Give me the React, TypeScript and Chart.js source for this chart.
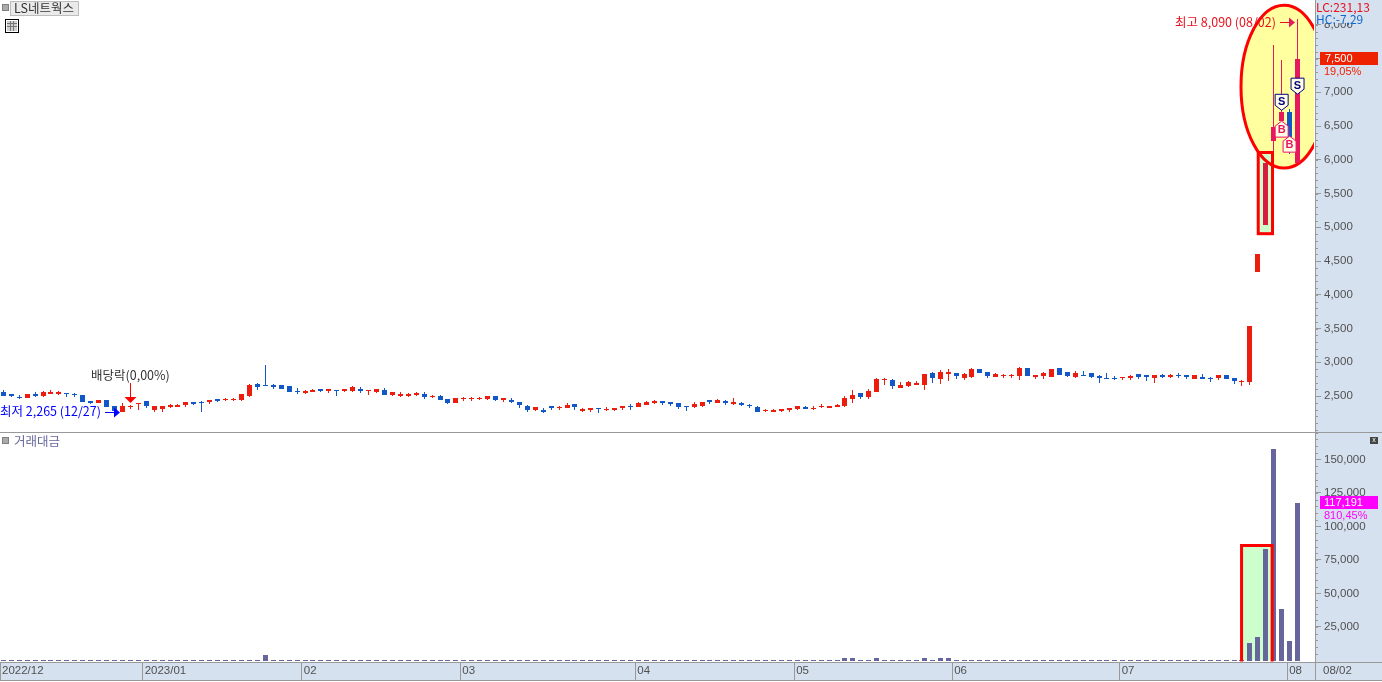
import React, { useEffect, useRef } from "react";
import { Chart, registerables } from "chart.js";

Chart.register(...registerables);

const opens = [
  2565,2525,2490,2471,2530,2500,2535,2535,2545,2535,
  2515,2425,2400,2440,2345,2265,2340,2378,2427,2298,
  2303,2338,2338,2368,2407,2412,2412,2456,2446,2446,
  2442,2501,2683,2663,2663,2663,2648,2570,2545,2565,
  2604,2574,2589,2574,2574,2604,2584,2560,2589,2515,
  2500,2500,2515,2530,2486,2500,2456,2397,2456,2456,
  2456,2456,2500,2441,2441,2412,2353,2293,2293,2353,
  2323,2323,2382,2279,2293,2323,2298,2294,2323,2353,
  2338,2368,2397,2427,2412,2397,2353,2338,2353,2442,
  2397,2427,2382,2397,2368,2338,2279,2264,2279,2294,
  2308,2338,2318,2343,2323,2338,2353,2456,2545,2486,
  2560,2742,2737,2619,2648,2663,2663,2841,2752,2826,
  2841,2767,2782,2900,2856,2782,2801,2801,2796,2915,
  2782,2796,2782,2915,2856,2782,2811,2841,2796,2767,
  2767,2767,2767,2826,2811,2767,2811,2782,2811,2811,
  2752,2782,2767,2767,2811,2767,2718,2708,4335,5030,
  6278,6570,6703,5949,
];
const closes = [
  2505,2505,2475,2530,2505,2560,2565,2560,2535,2515,
  2410,2400,2440,2337,2285,2353,2350,2397,2358,2353,
  2353,2368,2368,2412,2387,2405,2437,2427,2456,2456,
  2530,2668,2639,2655,2629,2609,2565,2560,2574,2589,
  2574,2604,2579,2604,2634,2574,2594,2604,2515,2560,
  2535,2535,2545,2486,2500,2441,2397,2471,2466,2466,
  2471,2500,2441,2471,2412,2367,2293,2338,2264,2323,
  2333,2367,2338,2308,2323,2313,2308,2323,2353,2338,
  2397,2412,2427,2397,2382,2338,2343,2382,2412,2412,
  2442,2397,2412,2368,2353,2264,2294,2294,2308,2323,
  2353,2308,2328,2353,2353,2368,2471,2515,2486,2575,
  2752,2752,2648,2663,2708,2693,2826,2767,2856,2856,
  2796,2826,2900,2841,2796,2826,2811,2811,2915,2796,
  2811,2841,2900,2811,2796,2841,2801,2782,2767,2757,
  2752,2782,2796,2782,2782,2811,2782,2811,2796,2782,
  2811,2752,2752,2811,2752,2723,2728,3536,4600,5950,
  6486,6703,6338,7500,
];
const highs = [
  2590,2525,2510,2530,2560,2570,2590,2575,2545,2550,
  2515,2425,2440,2440,2345,2392,2372,2397,2427,2353,
  2353,2382,2387,2412,2407,2427,2437,2456,2466,2476,
  2530,2672,2693,2959,2678,2663,2648,2619,2589,2604,
  2604,2604,2589,2604,2648,2634,2594,2604,2619,2560,
  2560,2545,2560,2560,2515,2515,2456,2471,2486,2486,
  2486,2500,2500,2471,2471,2412,2367,2338,2323,2353,
  2353,2397,2382,2323,2323,2323,2338,2323,2353,2382,
  2412,2427,2442,2427,2412,2397,2353,2412,2412,2442,
  2456,2442,2471,2412,2382,2353,2308,2308,2308,2323,
  2353,2353,2353,2382,2353,2382,2501,2589,2545,2604,
  2762,2767,2752,2708,2722,2722,2826,2856,2885,2900,
  2841,2841,2915,2900,2856,2841,2826,2826,2930,2915,
  2811,2856,2900,2915,2856,2870,2870,2841,2811,2841,
  2796,2782,2811,2826,2811,2811,2826,2826,2841,2811,
  2811,2826,2782,2811,2811,2767,2737,3536,4600,5950,
  7695,7473,6748,8090,
];
const lows = [
  2505,2485,2455,2471,2480,2480,2530,2515,2485,2485,
  2410,2375,2400,2337,2280,2265,2313,2294,2318,2265,
  2270,2318,2338,2333,2368,2265,2377,2412,2427,2427,
  2432,2486,2589,2648,2604,2609,2565,2535,2530,2565,
  2560,2545,2500,2560,2560,2545,2515,2545,2515,2500,
  2486,2486,2500,2456,2471,2441,2382,2397,2427,2427,
  2441,2441,2427,2412,2397,2323,2264,2279,2249,2293,
  2293,2323,2293,2264,2264,2249,2279,2279,2294,2294,
  2338,2368,2382,2368,2353,2308,2279,2323,2338,2382,
  2397,2368,2368,2353,2323,2264,2264,2264,2264,2264,
  2294,2308,2294,2323,2323,2338,2338,2397,2456,2456,
  2560,2663,2604,2619,2634,2663,2589,2693,2678,2723,
  2752,2737,2767,2841,2767,2782,2767,2767,2737,2796,
  2752,2752,2782,2811,2782,2767,2801,2767,2693,2757,
  2737,2737,2737,2752,2723,2693,2767,2767,2767,2752,
  2752,2752,2708,2737,2752,2678,2649,2663,4335,5030,
  5900,6360,6090,5949,
];
const volumes = [
  520,480,510,560,430,470,530,490,450,540,
  610,480,440,580,630,560,470,520,490,440,
  420,380,410,530,470,590,450,430,390,400,
  620,640,600,4000,650,520,610,480,430,450,
  390,420,460,410,560,520,430,470,580,500,
  440,390,420,510,380,530,560,610,430,400,
  370,420,490,440,510,620,640,540,580,470,
  410,520,560,430,410,470,380,400,430,460,
  540,490,440,420,410,480,500,520,570,460,
  440,430,510,400,380,620,390,370,410,430,
  520,440,390,420,400,430,1450,1600,610,640,
  1500,650,640,620,620,580,1500,620,1450,1550,
  640,600,610,550,520,470,430,420,630,620,
  460,520,610,640,510,560,470,490,560,430,
  420,400,470,510,480,530,440,450,420,410,
  460,430,400,510,470,530,640,12800,17300,83000,
  157600,38200,14300,117191,
];
const priceTicks = [2500,3000,3500,4000,4500,5000,5500,6000,6500,7000,7500,8000];
const volumeTicks = [25000,50000,75000,100000,125000,150000];
const monthLabels = ["2022/12","2023/01","02","03","04","05","06","07","08"];
const monthStarts = [-0.416,17.55,37.6,57.55,79.6,99.6,119.5,140.6,161.7];
const crimsonCandles = [159];
const pinkCandles = [160,161,163];

const RED = "#EC1C0E", BLUE = "#1157C8", CRIMSON = "#D81E40", PINK = "#E6195F";
const VOL = "#66669C", PANEL = "#D6E1EF", AXIS = "#999999", TEXT = "#505050";
const KR = '"Noto Sans CJK KR", "Liberation Sans", sans-serif';
const NUM = '"Liberation Sans", sans-serif';
const X_MIN = -0.416, X_MAX = 165.2;
const fmt = (v: number) => v.toLocaleString("en-US");

const candleColor = opens.map((o, i) =>
  crimsonCandles.includes(i) ? CRIMSON : pinkCandles.includes(i) ? PINK : closes[i] >= o ? RED : BLUE
);
const idx = opens.map((_, i) => i);

function text(ctx: any, s: string, x: number, y: number, color: string, font = `12.5px ${KR}`) {
  ctx.font = font;
  ctx.fillStyle = color;
  ctx.textAlign = "left";
  ctx.textBaseline = "middle";
  ctx.fillText(s, x, y);
}
function rect(ctx: any, x: number, y: number, w: number, h: number, color: string) {
  ctx.fillStyle = color;
  ctx.fillRect(x, y, w, h);
}
function smallSquare(ctx: any, x: number, y: number) {
  rect(ctx, x, y, 5, 5, "#AAAAAA");
  ctx.strokeStyle = "#808080";
  ctx.lineWidth = 1;
  ctx.strokeRect(x - 0.5, y - 0.5, 6, 6);
}
function snapPlugin(isVolume: boolean) {
  return {
    id: "snap",
    afterDatasetsUpdate(chart: any) {
      chart.data.datasets.forEach((_: any, d: number) => {
        chart.getDatasetMeta(d).data.forEach((el: any) => {
          el.x = Math.floor(el.x) + 0.5;
          if (isVolume) {
            el.base = 229;
            el.y = Math.min(Math.round(el.y), 228);
          } else {
            const top = Math.round(Math.min(el.y, el.base));
            let bottom = Math.round(Math.max(el.y, el.base));
            if (bottom === top) bottom = top + 1;
            el.y = top;
            el.base = bottom;
          }
        });
      });
    },
  };
}
function minorTicks(ctx: any, chart: any, from: number, to: number, step: number) {
  const s = chart.scales.y;
  ctx.strokeStyle = AXIS;
  ctx.lineWidth = 1;
  ctx.beginPath();
  for (let v = from; v <= to; v += step) {
    const p = Math.round(s.getPixelForValue(v)) + 0.5;
    if (p < chart.chartArea.top || p > chart.chartArea.bottom) continue;
    ctx.moveTo(1316, p);
    ctx.lineTo(1318, p);
  }
  ctx.stroke();
}
function pentagon(ctx: any, cx: number, tip: number, dir: number, stroke: string, letter: string, color: string) {
  const w = 6.5, h = 16, sh = 5;
  ctx.beginPath();
  ctx.moveTo(cx, tip);
  ctx.lineTo(cx + w, tip - dir * sh);
  ctx.lineTo(cx + w, tip - dir * h);
  ctx.lineTo(cx - w, tip - dir * h);
  ctx.lineTo(cx - w, tip - dir * sh);
  ctx.closePath();
  ctx.fillStyle = "#FFFFE8";
  ctx.fill();
  ctx.strokeStyle = stroke;
  ctx.lineWidth = 1;
  ctx.stroke();
  ctx.font = `bold 11px ${NUM}`;
  ctx.fillStyle = color;
  ctx.textAlign = "center";
  ctx.textBaseline = "middle";
  ctx.fillText(letter, cx, tip - dir * 8.5);
}

const priceDecor = {
  id: "priceDecor",
  beforeDraw(chart: any) {
    const { ctx, width, height } = chart;
    rect(ctx, 0, 0, width, height, "#FFFFFF");
    rect(ctx, 1315, 0, width - 1315, height, PANEL);
  },
  beforeDatasetsDraw(chart: any) {
    const { ctx, chartArea: a } = chart;
    const X = chart.scales.x, Y = chart.scales.y;
    const cx = X.getPixelForValue(161.3), rx = X.getPixelForValue(166.72) - cx;
    const top = Y.getPixelForValue(8290), bot = Y.getPixelForValue(5877);
    ctx.save();
    ctx.beginPath();
    ctx.rect(a.left, a.top, a.right - a.left - 1, a.bottom - a.top);
    ctx.clip();
    ctx.beginPath();
    ctx.ellipse(cx, (top + bot) / 2, rx, (bot - top) / 2, 0, 0, Math.PI * 2);
    ctx.fillStyle = "#FFFFA0";
    ctx.fill();
    const l = X.getPixelForValue(158.05), r = X.getPixelForValue(159.85);
    const t = Y.getPixelForValue(6108), b = Y.getPixelForValue(4905);
    rect(ctx, l, t, r - l, b - t, "#CCFFCC");
    ctx.beginPath();
    ctx.ellipse(cx, (top + bot) / 2, rx, (bot - top) / 2, 0, 0, Math.PI * 2);
    ctx.strokeStyle = "#FF0000";
    ctx.lineWidth = 3;
    ctx.stroke();
    ctx.restore();
  },
  afterDatasetsDraw(chart: any) {
    const { ctx } = chart;
    const X = chart.scales.x, Y = chart.scales.y;
    const l = X.getPixelForValue(158.05), r = X.getPixelForValue(159.85);
    const t = Y.getPixelForValue(6108), b = Y.getPixelForValue(4905);
    ctx.strokeStyle = "#FF0000";
    ctx.lineWidth = 3;
    ctx.strokeRect(l, t, r - l, b - t);
    pentagon(ctx, X.getPixelForValue(161), Y.getPixelForValue(6733), 1, "#000080", "S", "#000080");
    pentagon(ctx, X.getPixelForValue(163), Y.getPixelForValue(6972), 1, "#000080", "S", "#000080");
    pentagon(ctx, X.getPixelForValue(161), Y.getPixelForValue(6573), -1, "#F0106A", "B", PINK);
    pentagon(ctx, X.getPixelForValue(162), Y.getPixelForValue(6350), -1, "#F0106A", "B", PINK);
  },
  afterDraw(chart: any) {
    const { ctx } = chart;
    minorTicks(ctx, chart, 2000, 8300, 100);
    const X = chart.scales.x, Y = chart.scales.y;
    // high marker
    const hy = 22.5;
    text(ctx, "최고 8,090 (08/02)", 1175, hy, "#E8101C");
    ctx.strokeStyle = "#E8101C";
    ctx.lineWidth = 1;
    ctx.beginPath();
    ctx.moveTo(1280, hy);
    ctx.lineTo(1290, hy);
    ctx.stroke();
    ctx.fillStyle = PINK;
    ctx.beginPath();
    ctx.moveTo(1295, hy);
    ctx.lineTo(1289, hy - 5);
    ctx.lineTo(1289, hy + 5);
    ctx.closePath();
    ctx.fill();
    // low marker
    const ly = Math.round(Y.getPixelForValue(2265)) + 0.5;
    text(ctx, "최저 2,265 (12/27)", 0, ly - 1, "#0000FF");
    ctx.strokeStyle = "#0000FF";
    ctx.beginPath();
    ctx.moveTo(105, ly);
    ctx.lineTo(114, ly);
    ctx.stroke();
    ctx.fillStyle = "#0000FF";
    ctx.beginPath();
    ctx.moveTo(120, ly);
    ctx.lineTo(114, ly - 5);
    ctx.lineTo(114, ly + 5);
    ctx.closePath();
    ctx.fill();
    // ex-dividend marker
    const ex = Math.floor(X.getPixelForValue(16)) + 0.5 ;
    text(ctx, "배당락(0,00%)", 91, 375, "#333333");
    ctx.strokeStyle = "#FF0000";
    ctx.beginPath();
    ctx.moveTo(ex, 383);
    ctx.lineTo(ex, 398);
    ctx.stroke();
    ctx.fillStyle = "#FF0000";
    ctx.beginPath();
    ctx.moveTo(ex, 403);
    ctx.lineTo(ex - 6, 397);
    ctx.lineTo(ex + 6, 397);
    ctx.closePath();
    ctx.fill();
    // header
    smallSquare(ctx, 3, 5);
    rect(ctx, 10, 1, 69, 15, "#BDBDBD");
    rect(ctx, 11, 2, 67, 13, "#EAEAEA");
    text(ctx, "LS네트웍스", 14, 8.5, "#333333");
    ctx.strokeStyle = "#000000";
    ctx.lineWidth = 1;
    ctx.strokeRect(5.5, 19.5, 13, 13);
    rect(ctx, 7, 21, 10, 10, "#CFCFCF");
    ctx.strokeStyle = "#777777";
    ctx.beginPath();
    for (const p of [10.5, 13.5]) { ctx.moveTo(p, 21); ctx.lineTo(p, 31); }
    for (const p of [23.5, 26.5]) { ctx.moveTo(7, p); ctx.lineTo(17, p); }
    ctx.stroke();
    // right-hand readouts
    rect(ctx, 1316, 0, 60, 23, PANEL);
    text(ctx, "LC:231,13", 1316, 7, "#E8101C", `12px ${KR}`);
    text(ctx, "HC:-7,29", 1316, 19, "#1166CC", `12px ${KR}`);
    rect(ctx, 1320, 52, 58, 13, "#EE2200");
    text(ctx, "7,500", 1325, 58.5, "#FFFFFF", `11px ${NUM}`);
    rect(ctx, 1320, 65, 58, 12, PANEL);
    text(ctx, "19,05%", 1324, 71.5, "#EE2200", `11px ${NUM}`);
  },
};

const volumeDecor = {
  id: "volumeDecor",
  beforeDraw(chart: any) {
    const { ctx, width, height } = chart;
    rect(ctx, 0, 0, width, height, "#FFFFFF");
    rect(ctx, 1315, 0, width - 1315, 248, PANEL);
    rect(ctx, 0, 230, width, 18, PANEL);
  },
  beforeDatasetsDraw(chart: any) {
    const { ctx } = chart;
    const X = chart.scales.x, Y = chart.scales.y;
    const l = X.getPixelForValue(155.95), r = X.getPixelForValue(159.8);
    const t = Y.getPixelForValue(85700), b = Y.getPixelForValue(0);
    rect(ctx, l, t, r - l, b - t, "#CCFFCC");
  },
  afterDatasetsDraw(chart: any) {
    const { ctx } = chart;
    const X = chart.scales.x, Y = chart.scales.y;
    const l = X.getPixelForValue(155.95), r = X.getPixelForValue(159.8);
    const t = Y.getPixelForValue(85700), b = Y.getPixelForValue(0);
    ctx.strokeStyle = "#FF0000";
    ctx.lineWidth = 3;
    ctx.beginPath();
    ctx.moveTo(l, b + 1);
    ctx.lineTo(l, t);
    ctx.lineTo(r, t);
    ctx.lineTo(r, b + 1);
    ctx.stroke();
  },
  afterDraw(chart: any) {
    const { ctx, width } = chart;
    minorTicks(ctx, chart, 5000, 170000, 5000);
    rect(ctx, 0, 0, width, 1, AXIS);
    rect(ctx, 0, 230, width, 1, AXIS);
    rect(ctx, 0, 248, width, 1, AXIS);
    rect(ctx, 1315, 230, 1, 18, AXIS);
    smallSquare(ctx, 3, 6);
    text(ctx, "거래대금", 14, 9, VOL);
    text(ctx, "08/02", 1323, 239, TEXT, `11.5px ${NUM}`);
    // close icon
    rect(ctx, 1370, 5, 8, 7, "#444444");
    ctx.font = `7px ${NUM}`;
    ctx.fillStyle = "#FFFFFF";
    ctx.textAlign = "center";
    ctx.textBaseline = "middle";
    ctx.fillText("x", 1374, 8);
    // last value badge
    rect(ctx, 1320, 64, 58, 13, "#FF00FF");
    text(ctx, "117,191", 1324, 70.5, "#FFFFFF", `11px ${NUM}`);
    rect(ctx, 1320, 77, 58, 12, PANEL);
    text(ctx, "810,45%", 1324, 83.5, "#FF00FF", `11px ${NUM}`);
  },
};

function yAxis(min: number, max: number, values: number[]) {
  return {
    position: "right",
    min,
    max,
    afterFit(s: any) {
      s.width = 67;
      s.paddingTop = 0;
      s.paddingBottom = 0;
    },
    afterBuildTicks(s: any) { s.ticks = values.map((value) => ({ value })); },
    border: { color: AXIS, width: 1 },
    grid: { drawOnChartArea: false, tickLength: 6, tickColor: AXIS, tickWidth: 1 },
    ticks: {
      autoSkip: false,
      padding: 3,
      color: TEXT,
      font: { family: NUM, size: 11.5 },
      callback: (v: any) => fmt(Number(v)),
    },
  };
}

const baseOptions: any = {
  responsive: false,
  animation: false,
  events: [],
  layout: { padding: 0 },
  plugins: { legend: { display: false }, tooltip: { enabled: false }, title: { display: false } },
};

export default function App() {
  const priceRef = useRef<HTMLCanvasElement>(null);
  const volumeRef = useRef<HTMLCanvasElement>(null);
  useEffect(() => {
    const price = new Chart(priceRef.current as any, {
      type: "bar",
      data: {
        datasets: [
          {
            label: "body",
            data: idx.map((i) => ({ x: i, y: [opens[i], closes[i]] })) as any,
            backgroundColor: candleColor,
            barThickness: 5,
            grouped: false,
            borderWidth: 0,
            inflateAmount: 0,
          } as any,
          {
            label: "wick",
            data: idx.map((i) => ({ x: i, y: [lows[i], highs[i]] })) as any,
            backgroundColor: candleColor,
            barThickness: 1,
            grouped: false,
            borderWidth: 0,
            inflateAmount: 0,
          } as any,
        ],
      },
      options: {
        ...baseOptions,
        scales: {
          x: { type: "linear", min: X_MIN, max: X_MAX, offset: false, display: false },
          y: yAxis(1967, 8367, priceTicks),
        },
      },
      plugins: [snapPlugin(false), priceDecor],
    } as any);
    const volume = new Chart(volumeRef.current as any, {
      type: "bar",
      data: {
        datasets: [
          {
            label: "거래대금",
            data: idx.map((i) => ({ x: i, y: volumes[i] })) as any,
            backgroundColor: VOL,
            barThickness: 5,
            borderWidth: 0,
            inflateAmount: 0,
          } as any,
        ],
      },
      options: {
        ...baseOptions,
        scales: {
          x: {
            type: "linear",
            position: "bottom",
            min: X_MIN,
            max: X_MAX,
            offset: false,
            afterFit(s: any) {
              s.height = 20;
              s.paddingLeft = 0;
              s.paddingRight = 0;
            },
            afterBuildTicks(s: any) { s.ticks = monthStarts.map((value) => ({ value })); },
            border: { display: false },
            grid: { offset: false, drawOnChartArea: false, tickLength: 18, tickColor: AXIS, tickWidth: 1 },
            ticks: {
              autoSkip: false,
              maxRotation: 0,
              minRotation: 0,
              align: "start",
              labelOffset: 2,
              padding: -16,
              color: TEXT,
              font: { family: NUM, size: 11.5 },
              callback: (_: any, i: number) => monthLabels[i],
            },
          },
          y: yAxis(-1194, 170448, volumeTicks),
        },
      },
      plugins: [snapPlugin(true), volumeDecor],
    } as any);
    return () => {
      price.destroy();
      volume.destroy();
    };
  }, []);
  return (
    <div style={{ position: "fixed", left: 0, top: 0, width: 1382, height: 682, background: "#FFFFFF" }}>
      <canvas ref={priceRef} width={1382} height={432} style={{ position: "absolute", left: 0, top: 0, display: "block" }} />
      <canvas ref={volumeRef} width={1382} height={250} style={{ position: "absolute", left: 0, top: 432, display: "block" }} />
    </div>
  );
}
